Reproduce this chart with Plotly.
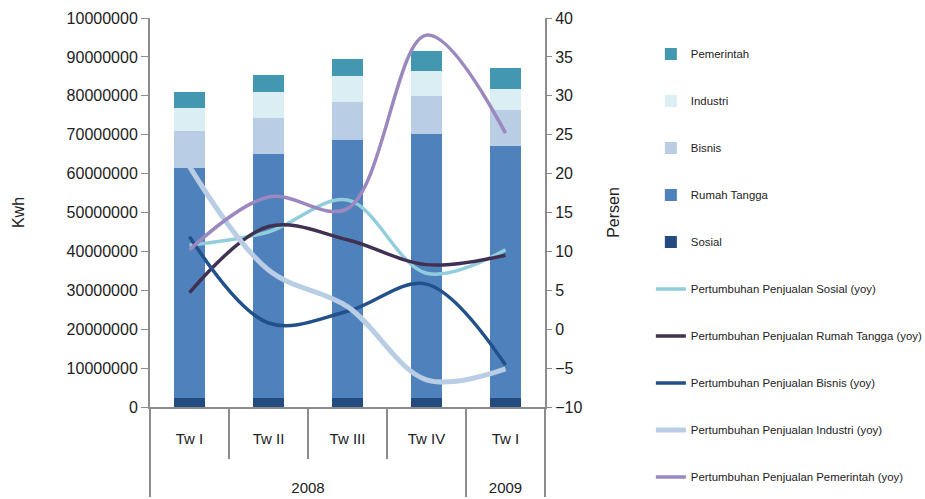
import plotly.graph_objects as go

years = ["2008", "2008", "2008", "2008", "2009"]
quarters = ["Tw I", "Tw II", "Tw III", "Tw IV", "Tw I"]

# Sales (Kwh) stacked bars
sosial = [2300000, 2300000, 2300000, 2300000, 2300000]
rumah_tangga = [59100000, 62700000, 66300000, 68000000, 64800000]
bisnis = [9600000, 9400000, 9800000, 9700000, 9200000]
industri = [5900000, 6600000, 6600000, 6300000, 5400000]
pemerintah = [4100000, 4400000, 4500000, 5200000, 5400000]

# Growth (yoy, %)
g_sosial = [10.8, 12.5, 16.6, 7.2, 10.2]
g_rumah_tangga = [4.7, 13.2, 11.5, 8.3, 9.5]
g_bisnis = [11.9, 0.8, 2.3, 5.8, -4.6]
g_industri = [20.9, 7.6, 2.9, -6.5, -5.1]
g_pemerintah = [10.2, 17.0, 15.5, 37.8, 25.2]

left_tickvals = [0, 10000000, 20000000, 30000000, 40000000, 50000000,
                 60000000, 70000000, 80000000, 90000000, 100000000]
left_ticktext = ["0", "10000000", "20000000", "30000000", "40000000", "50000000",
                 "60000000", "70000000", "80000000", "90000000", "10000000"]

# quarter labels get extra (invisible) lines so the year row sits lower
PAD = "<br>&nbsp;<br><span style='font-size:52px'>&nbsp;</span>"
x = [years, [q + PAD for q in quarters]]
FONT = "Liberation Sans"
AXC = "#8C8C8C"

fig = go.Figure()

bars = [
    ("Sosial", sosial, "#244B7F", 5),
    ("Rumah Tangga", rumah_tangga, "#4F81BD", 4),
    ("Bisnis", bisnis, "#B9CDE5", 3),
    ("Industri", industri, "#DBEEF4", 2),
    ("Pemerintah", pemerintah, "#4397B0", 1),
]
for name, vals, col, rank in bars:
    fig.add_trace(go.Bar(
        x=x, y=vals, name=name, marker=dict(color=col, line=dict(width=0)),
        width=0.4, legendrank=rank, legendgroup=name,
    ))

lines = [
    ("Pertumbuhan Penjualan Sosial (yoy)", g_sosial, "#92CDDC", 3.5, 6),
    ("Pertumbuhan Penjualan Rumah Tangga (yoy)", g_rumah_tangga, "#403152", 3.5, 7),
    ("Pertumbuhan Penjualan Bisnis (yoy)", g_bisnis, "#21508A", 3.5, 8),
    ("Pertumbuhan Penjualan Industri (yoy)", g_industri, "#B9CDE5", 5, 9),
    ("Pertumbuhan Penjualan Pemerintah (yoy)", g_pemerintah, "#9A88BE", 3.5, 10),
]
for name, vals, col, w, rank in lines:
    fig.add_trace(go.Scatter(
        x=x, y=vals, name=name, mode="lines", yaxis="y2",
        line=dict(color=col, width=w, shape="spline", smoothing=1.0),
        legendrank=rank, legendgroup=name,
    ))

fig.update_layout(
    width=925, height=499,
    margin=dict(l=150, r=380, t=18, b=92, autoexpand=False),
    paper_bgcolor="white", plot_bgcolor="white",
    barmode="stack",
    font=dict(family=FONT, color="#222222", size=15),
    showlegend=True,
    legend=dict(
        x=1.268, xanchor="left", y=0.945, yanchor="top",
        font=dict(family=FONT, size=11.4, color="#222222"),
        tracegroupgap=28, itemwidth=30, bgcolor="rgba(0,0,0,0)",
        maxheight=470,
    ),
    xaxis=dict(
        type="multicategory", automargin=False,
        showline=True, linecolor=AXC, linewidth=2,
        showgrid=False, showdividers=True, dividercolor=AXC, dividerwidth=1.5,
        ticks="outside", ticklen=50, tickcolor=AXC, tickwidth=1.5,
        ticklabelstandoff=17,
        tickfont=dict(family=FONT, size=15, color="#222222"),
    ),
    yaxis=dict(
        range=[0, 100000000], tickvals=left_tickvals, ticktext=left_ticktext,
        automargin=False,
        showline=True, linecolor=AXC, linewidth=2, showgrid=False,
        ticks="outside", ticklen=7, tickcolor=AXC, zeroline=False,
        tickfont=dict(family=FONT, size=16, color="#222222"),
        title=dict(text="Kwh", font=dict(family=FONT, size=16), standoff=38),
    ),
    yaxis2=dict(
        range=[-10, 40], dtick=5, tick0=0, overlaying="y", side="right",
        automargin=False,
        showline=True, linecolor=AXC, linewidth=2, showgrid=False,
        ticks="outside", ticklen=5, tickcolor=AXC, zeroline=False,
        tickfont=dict(family=FONT, size=16, color="#222222"),
        title=dict(text="Persen", font=dict(family=FONT, size=16), standoff=26),
    ),
)

# remove the browser's default 8px page margin so the figure sits at (0, 0)
fig.write_html("out.html", config={"displayModeBar": False},
               post_script="document.body.style.margin='0';")
